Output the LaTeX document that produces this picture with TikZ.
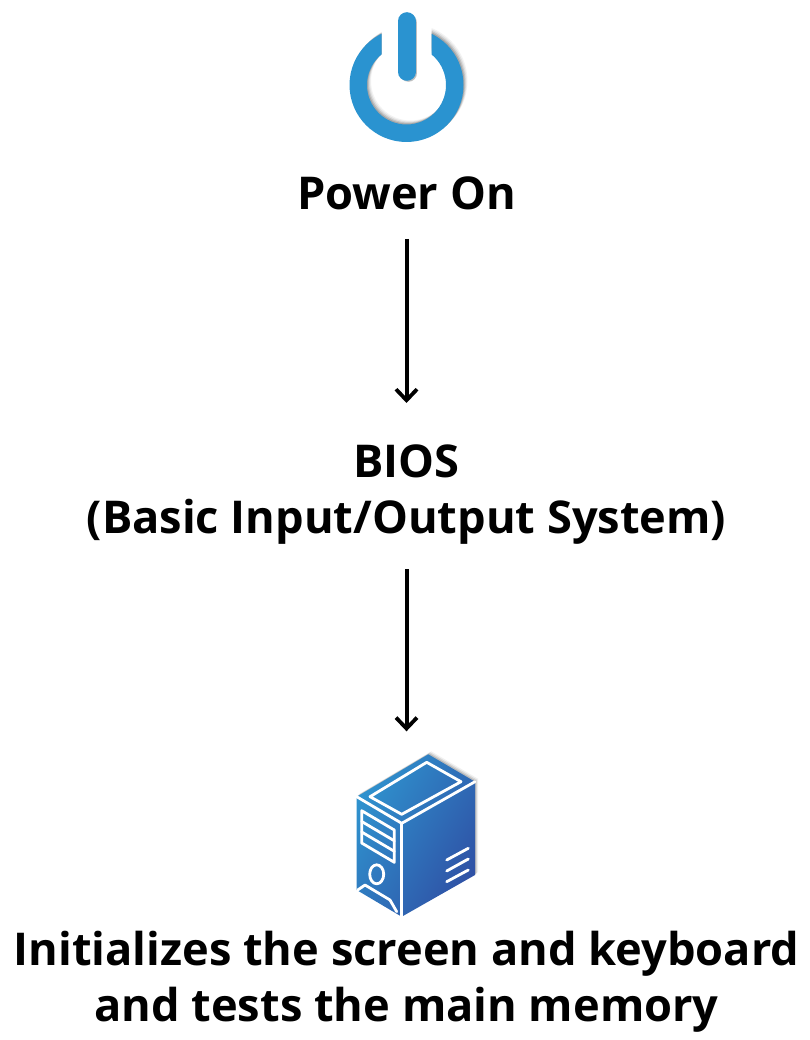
\documentclass[tikz,border=0pt]{standalone}
\usepackage{fontspec}
\setmainfont{Open Sans}
\usetikzlibrary{arrows.meta}
\definecolor{powerblue}{HTML}{2A93D0}
\definecolor{caselight}{HTML}{2F92CE}
\definecolor{casedark}{HTML}{2F52A6}
\tikzstyle{label} = [align=center, font=\fontsize{45.2}{56}\selectfont\bfseries, text=black, inner sep=0pt]
\tikzstyle{arrow} = [line width=4pt,-{Straight Barb[length=11pt,width=21pt,line width=3.8pt]}]
\tikzstyle{caseline} = [white, line width=2.8pt, line join=round, line cap=round]
\begin{document}
\begin{tikzpicture}[x=1pt,y=-1pt]
\useasboundingbox (0,0) rectangle (810,1040);
% power icon
\begin{scope}
\clip (300,0) -- (381.5,0) -- (381.5,85) -- (431.5,85) -- (431.5,0) -- (520,0) -- (520,160) -- (300,160) -- cycle;
\foreach \s/\o in {4/0.05,3/0.08,2/0.12,1/0.15}
  \path [fill=black, fill opacity=\o, even odd rule, shift={(\s pt,\s pt)}] (406.5,85) circle [radius=57pt] (406.5,85) circle [radius=39.5pt];
\fill [powerblue, even odd rule] (406.5,85) circle [radius=57pt] (406.5,85) circle [radius=39.5pt];
\end{scope}
\draw [black!25, line width=17.6pt, line cap=round] (408.3,23) -- (408.3,73);
\draw [powerblue, line width=17.6pt, line cap=round] (406.8,21) -- (406.8,72);
% case icon
\foreach \s/\o in {3/0.06,2/0.1,1/0.14}
  \path [fill=black, fill opacity=\o, shift={(\s pt,\s pt)}] (428.3,754.3) -- (475,781.7) -- (475,875) -- (401.7,916.7) -- (356.7,890) -- (356.7,796.7) -- cycle;
\shade [left color=caselight, right color=casedark, shading angle=60] (428.3,754.3) -- (475,781.7) -- (475,875) -- (401.7,916.7) -- (356.7,890) -- (356.7,796.7) -- cycle;
\draw [caseline] (356.7,796.7) -- (401.7,823.3) -- (475,781.7);
\draw [caseline] (401.7,823.3) -- (401.7,916.7);
\draw [caseline] (426.7,762.3) -- (461,781.7) -- (401.7,814.3) -- (370,796.7) -- cycle;
\draw [caseline] (361.7,810.7) -- (394.3,830) -- (394.3,862.3) -- (361.7,843) -- cycle;
\draw [caseline] (361.7,821.5) -- (394.3,840.8);
\draw [caseline] (361.7,832) -- (394.3,851.3);
\draw [caseline] (376.7,874.3) ellipse [x radius=7pt, y radius=9.5pt];
\draw [caseline] (357.7,890) -- (365,885) -- (390,900) -- (396.7,911.7);
\draw [caseline] (446.7,860) -- (468.3,848.3);
\draw [caseline] (446.7,871) -- (468.3,859);
\draw [caseline] (446.7,881.7) -- (468.3,870);
% labels
\node (power) [label] at (406.5,193) {Power On};
\node (bios) [label] at (406.5,495) {BIOS\\(Basic Input/Output System)};
\node (caseicon) [inner sep=0pt, minimum width=118pt, minimum height=162pt] at (406.5,835.5) {};
\node (init) [label] at (406.5,982) {Initializes the screen and keyboard\\and tests the main memory};
\draw [arrow, shorten <=29pt, shorten >=42pt] (power) -- (bios);
\draw [arrow, shorten <=24pt, shorten >=23pt] (bios) -- (caseicon);
\end{tikzpicture}
\end{document}
